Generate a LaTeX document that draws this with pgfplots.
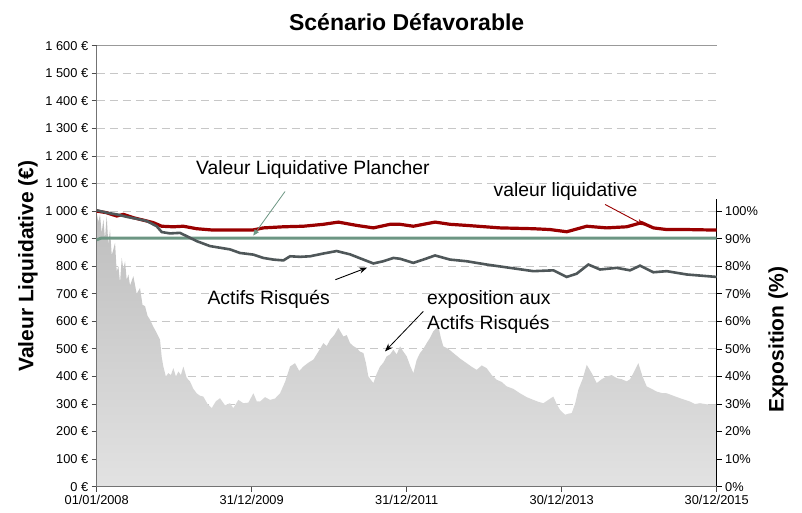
\documentclass[border=0pt]{standalone}
\usepackage{pgfplots}
\pgfplotsset{compat=1.18}
\usetikzlibrary{arrows.meta}
\usepackage{fontspec}
\setmainfont{Liberation Sans}

\definecolor{vlred}{HTML}{990000}
\definecolor{argrey}{HTML}{4F5759}
\definecolor{plgreen}{HTML}{6C9683}
\definecolor{expTop}{HTML}{BEBEBE}
\definecolor{expBot}{HTML}{E2E2E2}

\pgfplotsset{
  base/.style={width=620pt, height=441pt, scale only axis, xmin=0, xmax=8,
    every non boxed x axis/.style={}, every non boxed y axis/.style={},
    tick label style={font=\fontsize{12.8}{15}\selectfont},
    /pgf/number format/assume math mode=true},
}
\newcommand{\annot}{\fontsize{19.3}{25}\selectfont}

\begin{document}
\begin{tikzpicture}
% grid layer
\begin{axis}[base, ymin=0, ymax=1600,
  ytick={100,200,300,400,500,600,700,800,900,1000,1100,1200,1300,1400,1500},
  xtick=\empty, yticklabels={}, ymajorgrids,
  grid style={color=black!22, line width=0.9pt, dash pattern=on 8pt off 5pt},
  axis line style={draw=none}, major tick length=0pt]
\end{axis}

% exposure (right axis)
\begin{axis}[base, ymin=0, ymax=160, clip=false,
  axis x line=none, axis y line*=right, y axis line style={draw=none},
  ytick={0,10,20,30,40,50,60,70,80,90,100},
  yticklabels={0\%,10\%,20\%,30\%,40\%,50\%,60\%,70\%,80\%,90\%,100\%},
  ytick pos=right, tick align=outside, major tick length=5pt,
  tick style={black, line width=0.6pt}]
\addplot[draw=none, top color=expTop, bottom color=expBot] table {
x y
0.000 99.4
0.021 96.0
0.043 98.8
0.064 92.0
0.086 97.0
0.107 90.0
0.129 98.2
0.150 88.0
0.172 93.3
0.194 84.0
0.215 86.1
0.237 88.5
0.258 78.0
0.280 80.0
0.301 74.0
0.323 83.0
0.344 79.0
0.366 81.8
0.387 75.0
0.409 77.0
0.430 73.0
0.473 76.4
0.516 70.0
0.559 72.1
0.591 66.0
0.624 65.5
0.656 62.0
0.688 60.6
0.731 58.0
0.774 55.8
0.817 53.3
0.839 47.0
0.860 43.6
0.892 40.0
0.925 41.2
0.957 40.5
0.989 43.0
1.022 40.0
1.054 41.8
1.086 40.5
1.118 43.6
1.161 39.5
1.204 38.2
1.247 35.5
1.290 33.9
1.333 33.0
1.376 32.7
1.430 30.0
1.484 28.5
1.538 31.0
1.591 32.1
1.656 29.5
1.720 30.3
1.763 28.5
1.828 31.5
1.892 30.3
1.957 30.5
2.022 33.9
2.065 31.0
2.108 30.9
2.172 32.5
2.237 31.5
2.301 32.0
2.366 33.9
2.430 38.0
2.495 43.6
2.559 44.8
2.613 42.0
2.667 43.6
2.731 45.0
2.796 46.1
2.860 49.0
2.925 52.1
2.968 51.0
3.011 53.3
3.065 55.0
3.118 57.6
3.183 54.5
3.226 55.0
3.269 52.1
3.312 51.0
3.355 50.3
3.398 49.0
3.441 48.5
3.473 45.0
3.505 40.0
3.570 37.6
3.613 41.0
3.656 43.6
3.699 45.0
3.742 47.3
3.785 48.0
3.828 49.7
3.871 48.0
3.914 50.9
3.957 49.0
4.000 47.3
4.043 44.0
4.086 41.2
4.129 46.0
4.172 48.5
4.215 50.0
4.258 52.1
4.301 54.0
4.344 56.4
4.409 58.2
4.441 54.0
4.473 50.9
4.538 50.0
4.602 48.5
4.688 46.5
4.774 44.8
4.839 43.5
4.903 42.4
4.968 44.0
5.032 43.0
5.097 40.5
5.161 38.8
5.226 38.0
5.290 36.4
5.376 35.5
5.462 33.9
5.548 32.5
5.634 31.5
5.699 30.8
5.763 30.3
5.828 31.5
5.892 32.7
5.935 30.0
5.978 27.9
6.043 26.1
6.086 26.5
6.129 26.7
6.172 30.0
6.215 35.2
6.269 39.0
6.323 44.2
6.387 41.2
6.452 37.6
6.516 39.0
6.581 40.0
6.645 40.5
6.710 39.4
6.774 39.0
6.839 38.2
6.882 39.0
6.925 41.2
6.989 44.8
7.043 40.0
7.097 36.4
7.161 35.5
7.226 34.5
7.290 34.0
7.355 33.9
7.441 33.0
7.527 32.1
7.591 31.5
7.656 30.9
7.720 30.0
7.785 30.3
7.892 29.8
8.000 29.7
} \closedcycle;
\draw[black, line width=0.6pt] (axis cs:8,0) -- (axis cs:8,104.3);
\node[rotate=90, font=\bfseries\fontsize{21}{25}\selectfont]
  at (axis description cs:1.099,0.333) {Exposition (\%)};
\end{axis}

% lines (left axis)
\begin{axis}[base, ymin=0, ymax=1600, clip=false,
  axis x line*=bottom, axis y line*=left,
  axis line style={-, color=black!55, line width=1.3pt},
  xtick={0,2,4,6,8},
  xticklabels={01/01/2008,31/12/2009,31/12/2011,30/12/2013,30/12/2015},
  ytick={0,100,200,300,400,500,600,700,800,900,1000,1100,1200,1300,1400,1500,1600},
  yticklabels={0~€,100~€,200~€,300~€,400~€,500~€,600~€,700~€,800~€,900~€,1~000~€,1~100~€,1~200~€,1~300~€,1~400~€,1~500~€,1~600~€},
  xtick pos=left, ytick pos=left, tick align=outside, major tick length=5pt,
  tick style={black!70, line width=0.8pt}]
\draw[black!40, line width=1pt] (axis cs:0,1600) -- (axis cs:8,1600);
\addplot[plgreen, line width=3pt] coordinates {(0,896) (0.06,902) (8,902)};
\addplot[vlred, line width=3.2pt] table {
x y
0.000 1000
0.129 994
0.258 982
0.344 988
0.473 976
0.602 967
0.731 958
0.839 945
0.989 943
1.118 945
1.290 936
1.505 931
1.720 931
2.009 931
2.151 939
2.409 943
2.667 945
2.925 952
3.118 960
3.355 948
3.570 939
3.785 952
3.914 952
4.086 945
4.366 960
4.559 952
4.774 948
5.204 939
5.634 936
5.849 933
6.065 925
6.323 945
6.581 939
6.839 943
7.032 958
7.183 939
7.355 933
7.613 933
8.000 931
};
\addplot[argrey, line width=2.6pt] table {
x y
0.000 1003
0.129 994
0.258 988
0.387 979
0.516 972
0.645 964
0.774 945
0.839 924
0.946 919
1.075 921
1.161 909
1.290 891
1.462 873
1.591 867
1.720 861
1.849 848
2.022 842
2.151 830
2.280 824
2.409 821
2.495 836
2.624 834
2.753 836
2.925 846
3.097 855
3.269 843
3.441 824
3.570 810
3.699 818
3.828 830
3.914 827
4.086 812
4.215 824
4.366 839
4.559 824
4.774 818
5.032 806
5.333 794
5.634 782
5.892 785
6.065 761
6.194 773
6.344 806
6.495 788
6.710 794
6.882 785
7.011 802
7.183 778
7.355 782
7.613 770
7.785 766
8.000 761
};
% annotations
\node[font=\annot] at (axis cs:2.79,1152) {Valeur Liquidative Plancher};
\draw[plgreen, line width=0.8pt, -{Triangle[length=6pt,width=5pt]}] (axis cs:2.43,1071) -- (axis cs:2.02,911);
\node[font=\annot] at (axis cs:6.05,1071) {valeur liquidative};
\draw[vlred, line width=0.9pt, -{Stealth[length=8pt,width=6pt]}] (axis cs:6.56,1024) -- (axis cs:7.07,948);
\node[font=\annot] at (axis cs:2.22,679) {Actifs Risqués};
\draw[black, line width=0.9pt, -{Stealth[length=8pt,width=6pt]}] (axis cs:3.08,751) -- (axis cs:3.49,795);
\node[font=\annot, anchor=west, align=left, inner sep=0pt] at (axis cs:4.262,633) {exposition aux\\Actifs Risqués};
\draw[black, line width=0.8pt, -{Stealth[length=8pt,width=6pt]}] (axis cs:4.214,636) -- (axis cs:3.72,491);
% labels and title
\node[rotate=90, font=\bfseries\fontsize{21}{25}\selectfont]
  at (axis description cs:-0.111,0.5) {Valeur Liquidative (€)};
\node[font=\bfseries\fontsize{23}{27}\selectfont] at (axis description cs:0.5,1.054) {Scénario Défavorable};
\end{axis}
\path (-96.7pt,-25.3pt) rectangle (705.3pt,486.7pt);
\end{tikzpicture}
\end{document}
